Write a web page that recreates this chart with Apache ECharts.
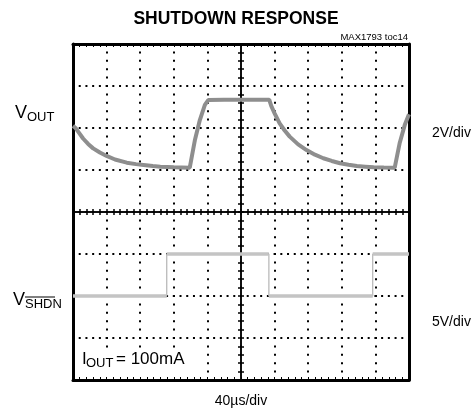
<!DOCTYPE html>
<html>
<head>
<meta charset="utf-8">
<script src="https://cdn.jsdelivr.net/npm/echarts@6/dist/echarts.min.js"></script>
<style>
  html, body { margin: 0; padding: 0; background: #fff; }
  #chart { width: 472px; height: 415px; }
</style>
</head>
<body>
<div id="chart"></div>
<script>
// time in µs (40µs/div), VOUT in volts (2V/div), SHDN in volts (5V/div)
const voutTime = [0, 3, 7, 12, 18, 24, 32, 40, 50, 64, 75, 84, 95, 104, 120, 139,
  145, 151, 157, 161, 180, 200, 220, 233.6,
  236, 240, 246, 252, 258, 268, 278, 288, 298, 308, 318, 328, 338, 348, 358, 370, 383,
  389, 395, 400]
const voutLevel = [2.1, 2.0, 1.78, 1.5, 1.24, 1.03, 0.83, 0.67, 0.5, 0.35, 0.28, 0.24, 0.19, 0.16, 0.13, 0.11,
  1.4, 2.38, 3.1, 3.33, 3.35, 3.34, 3.35, 3.35,
  3.05, 2.7, 2.22, 1.88, 1.59, 1.22, 0.95, 0.73, 0.56, 0.43, 0.32, 0.25, 0.19, 0.16, 0.13, 0.12, 0.11,
  1.3, 2.15, 2.65]
const shdnEdges = [0, 111.6, 233.2, 356.8, 400]
const shdnLevel = [0, 5, 0, 5]

const FONT = '"Liberation Sans", Arial, sans-serif'

const voutData = voutTime.map((t, i) => [t, voutLevel[i]])
const shdnFlat = []
const shdnStep = []
shdnLevel.forEach((v, i) => {
  shdnFlat.push([shdnEdges[i], v], [shdnEdges[i + 1], v], [shdnEdges[i + 1], '-'])
  shdnStep.push([shdnEdges[i], v], [shdnEdges[i + 1], v])
})

const dots = (gap) => ({ show: true, lineStyle: { color: '#000', width: 2, type: [2, gap], dashOffset: 1 } })
const noLabel = { show: false }

function borderX(pos, split) {
  return {
    type: 'value', position: pos, min: 0, max: 400, interval: 40,
    axisLine: { onZero: false, lineStyle: { color: '#000', width: 3 } },
    axisTick: { show: true, inside: true, length: 3, lineStyle: { color: '#000', width: 1 } },
    minorTick: { show: true, splitNumber: 5, length: 3, lineStyle: { color: '#000', width: 1 } },
    axisLabel: noLabel,
    splitLine: split ? dots(6.4) : { show: false }
  }
}
function centerX(pos) {
  return {
    type: 'value', position: pos, min: 0, max: 400, interval: 40,
    axisLine: { onZero: true, onZeroAxisIndex: 0, lineStyle: { color: '#000', width: 1.5 } },
    axisTick: { show: true, inside: false, length: 3, lineStyle: { color: '#000', width: 1.5 } },
    minorTick: { show: true, splitNumber: 5, length: 3, lineStyle: { color: '#000', width: 1.5 } },
    axisLabel: noLabel, splitLine: { show: false }
  }
}
function centerY(pos) {
  return {
    type: 'value', position: pos, min: -4, max: 4, interval: 1,
    axisLine: { onZero: true, onZeroAxisIndex: 4, lineStyle: { color: '#000', width: 1.5 } },
    axisTick: { show: true, inside: false, length: 3, lineStyle: { color: '#000', width: 1.5 } },
    minorTick: { show: true, splitNumber: 5, length: 3, lineStyle: { color: '#000', width: 1.5 } },
    axisLabel: noLabel, splitLine: { show: false }
  }
}

const chart = echarts.init(document.getElementById('chart'), null, { renderer: 'canvas' })
chart.setOption({
  animation: false,
  backgroundColor: '#fff',
  grid: { left: 73, top: 44, width: 336, height: 336, containLabel: false },
  xAxis: [
    borderX('bottom', true),
    borderX('top', false),
    centerX('bottom'),
    centerX('top'),
    { type: 'value', min: -5, max: 5, show: false, axisLine: { onZero: false } }
  ],
  yAxis: [
    {
      type: 'value', position: 'left', min: -4, max: 4, interval: 1,
      axisLine: { show: true, onZero: false, lineStyle: { color: '#000', width: 3 } },
      axisTick: { show: false }, axisLabel: noLabel, splitLine: dots(4.72)
    },
    {
      type: 'value', position: 'right', min: -4, max: 4, interval: 1,
      axisLine: { show: true, onZero: false, lineStyle: { color: '#000', width: 3 } },
      axisTick: { show: false }, axisLabel: noLabel, splitLine: { show: false }
    },
    centerY('left'),
    centerY('right'),
    { type: 'value', min: -10, max: 6, show: false, axisLine: { onZero: false } },
    { type: 'value', min: -10, max: 30, show: false, axisLine: { onZero: false } }
  ],
  series: [
    {
      name: 'SHDN edges', type: 'line', xAxisIndex: 0, yAxisIndex: 5, data: shdnStep,
      showSymbol: false, lineStyle: { color: '#b4b4b4', width: 1.2 }, z: 3
    },
    {
      name: 'SHDN', type: 'line', xAxisIndex: 0, yAxisIndex: 5, data: shdnFlat,
      showSymbol: false, connectNulls: false, lineStyle: { color: '#c4c4c4', width: 3.5 }, z: 3
    },
    {
      name: 'VOUT', type: 'line', xAxisIndex: 0, yAxisIndex: 4, data: voutData,
      showSymbol: false, lineStyle: { color: '#8e8e8e', width: 4 }, z: 4
    }
  ],
  graphic: [
    { type: 'text', left: 'center', top: 10, style: { text: 'SHUTDOWN RESPONSE', font: 'bold 17.5px ' + FONT, fill: '#000' } },
    { type: 'text', x: 408, y: 37, style: { text: 'MAX1793 toc14', font: '9.5px ' + FONT, fill: '#000', align: 'right', verticalAlign: 'middle' } },
    { type: 'text', x: 15, y: 113, style: { text: 'V', font: '18px ' + FONT, fill: '#000', verticalAlign: 'middle' } },
    { type: 'text', x: 27, y: 117.5, style: { text: 'OUT', font: '13px ' + FONT, fill: '#000', verticalAlign: 'middle' } },
    { type: 'text', x: 13, y: 300, style: { text: 'V', font: '18px ' + FONT, fill: '#000', verticalAlign: 'middle' } },
    { type: 'text', x: 25, y: 304, style: { text: 'SHDN', font: '13px ' + FONT, fill: '#000', verticalAlign: 'middle' } },
    { type: 'line', shape: { x1: 25, y1: 297, x2: 55, y2: 297 }, style: { stroke: '#000', lineWidth: 1 } },
    { type: 'text', x: 432, y: 133, style: { text: '2V/div', font: '14px ' + FONT, fill: '#000', verticalAlign: 'middle' } },
    { type: 'text', x: 432, y: 322, style: { text: '5V/div', font: '14px ' + FONT, fill: '#000', verticalAlign: 'middle' } },
    { type: 'text', x: 241, y: 401, style: { text: '40µs/div', font: '14px ' + FONT, fill: '#000', align: 'center', verticalAlign: 'middle' } },
    { type: 'rect', shape: { x: 78, y: 348, width: 104, height: 28 }, style: { fill: '#fff' }, z: 50 },
    { type: 'text', x: 82, y: 359, z: 51, style: { text: 'I', font: '17px ' + FONT, fill: '#000', verticalAlign: 'middle' } },
    { type: 'text', x: 86, y: 363.5, z: 51, style: { text: 'OUT', font: '13px ' + FONT, fill: '#000', verticalAlign: 'middle' } },
    { type: 'text', x: 116, y: 359, z: 51, style: { text: '= 100mA', font: '17px ' + FONT, fill: '#000', verticalAlign: 'middle' } }
  ]
})
</script>
</body>
</html>
